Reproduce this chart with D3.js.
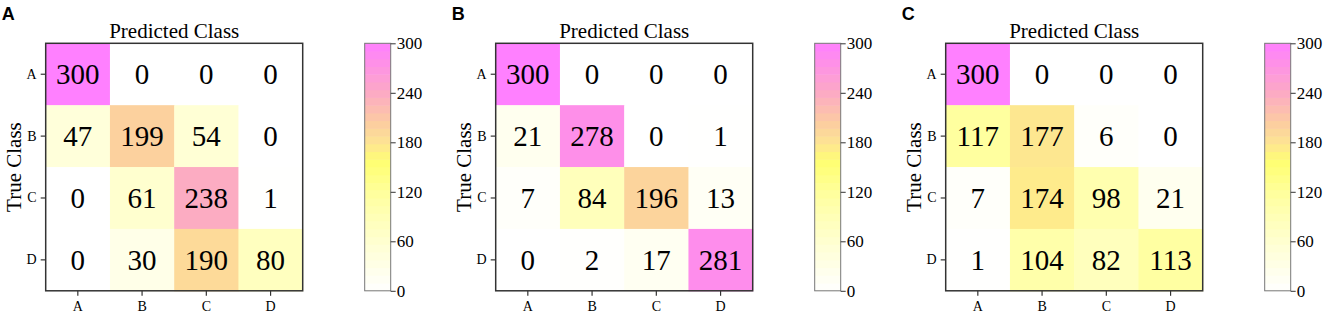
<!DOCTYPE html>
<html>
<head>
<meta charset="utf-8">
<script src="https://cdn.jsdelivr.net/npm/d3@7"></script>
<style>
  body { margin: 0; background: #fff; }
  svg { display: block; }
  .serif { font-family: "Liberation Serif", "Times New Roman", serif; }
</style>
</head>
<body>
<div id="container"></div>
<script>
/** DATA */
const classes = ["A", "B", "C", "D"];
const panelLabels = ["A", "B", "C"];
const matrixA = [[300, 0, 0, 0], [47, 199, 54, 0], [0, 61, 238, 1], [0, 30, 190, 80]];
const matrixB = [[300, 0, 0, 0], [21, 278, 0, 1], [7, 84, 196, 13], [0, 2, 17, 281]];
const matrixC = [[300, 0, 0, 0], [117, 177, 6, 0], [7, 174, 98, 21], [1, 104, 82, 113]];
const colorTicks = [0, 60, 120, 180, 240, 300];

/** LAYOUT */
const width = 1325, height = 316;
const panelStep = 450, plotLeft = 45.7, plotTop = 43.3;
const plotW = 257, plotH = 247.5;
const barOffset = 319, barW = 26;

// custom white -> yellow -> peach -> magenta map
const color = d3.scaleLinear()
  .domain([0, 60, 120, 156, 180, 200, 240, 300])
  .range(["#ffffff", "#ffffd0", "#ffff9c", "#ffff72", "#fde494", "#fcd09e", "#fcaac4", "#ff80ff"])
  .clamp(true);

const svg = d3.select("#container").append("svg")
  .attr("width", width).attr("height", height);

[matrixA, matrixB, matrixC].forEach((m, i) => {
  const x0 = plotLeft + i * panelStep;
  const g = svg.append("g").attr("transform", `translate(${x0},${plotTop})`);

  const x = d3.scaleBand().domain(classes).range([0, plotW]);
  const y = d3.scaleBand().domain(classes).range([0, plotH]);

  const cells = m.flatMap((row, r) => row.map((v, c) => ({ r: classes[r], c: classes[c], v })));

  g.selectAll("rect.cell").data(cells).join("rect")
    .attr("class", "cell")
    .attr("x", d => x(d.c)).attr("y", d => y(d.r))
    .attr("width", x.bandwidth() + 0.5).attr("height", y.bandwidth() + 0.5)
    .attr("fill", d => color(d.v));

  g.selectAll("text.val").data(cells).join("text")
    .attr("class", "val serif")
    .attr("x", d => x(d.c) + x.bandwidth() / 2)
    .attr("y", d => y(d.r) + y.bandwidth() / 2)
    .attr("text-anchor", "middle").attr("dy", "0.35em")
    .attr("font-size", 29)
    .text(d => d.v);

  // axes
  const yAxis = g.append("g").call(d3.axisLeft(y).tickSize(5).tickPadding(4));
  const xAxis = g.append("g").attr("transform", `translate(0,${plotH})`)
    .call(d3.axisBottom(x).tickSize(5).tickPadding(5));
  [yAxis, xAxis].forEach(a => {
    a.select(".domain").remove();
    a.selectAll("line").attr("stroke", "#333").attr("stroke-width", 1.2);
    a.selectAll("text").attr("class", "serif").attr("font-size", 14).attr("fill", "#000");
  });

  g.append("rect")
    .attr("width", plotW).attr("height", plotH)
    .attr("fill", "none").attr("stroke", "#333").attr("stroke-width", 1.5);

  g.append("text").attr("class", "serif")
    .attr("x", plotW / 2).attr("y", -5)
    .attr("text-anchor", "middle").attr("font-size", 21)
    .text("Predicted Class");

  g.append("text").attr("class", "serif")
    .attr("transform", `translate(-25,${plotH / 2}) rotate(-90)`)
    .attr("text-anchor", "middle").attr("font-size", 21)
    .text("True Class");

  svg.append("text")
    .attr("x", x0 - 44).attr("y", 20)
    .attr("font-family", "Liberation Sans, Arial, sans-serif")
    .attr("font-weight", "bold").attr("font-size", 18)
    .text(panelLabels[i]);

  // colorbar
  const cb = svg.append("g").attr("transform", `translate(${x0 + barOffset},${plotTop})`);
  const cy = d3.scaleLinear().domain([0, 300]).range([plotH, 0]);
  const nBands = 32;
  const bands = d3.range(nBands).map(k => k * 300 / nBands);
  cb.selectAll("rect.band").data(bands).join("rect")
    .attr("class", "band")
    .attr("x", 0).attr("width", barW)
    .attr("y", d => cy(d + 300 / nBands))
    .attr("height", cy(0) - cy(300 / nBands) + 0.5)
    .attr("fill", d => color(d + 150 / nBands));
  cb.append("rect").attr("width", barW).attr("height", plotH)
    .attr("fill", "none").attr("stroke", "#777").attr("stroke-width", 1);
  const cAxis = cb.append("g").attr("transform", `translate(${barW},0)`)
    .call(d3.axisRight(cy).tickValues(colorTicks).tickSize(5).tickPadding(1));
  cAxis.select(".domain").remove();
  cAxis.selectAll("line").attr("stroke", "#333");
  cAxis.selectAll("text").attr("class", "serif").attr("font-size", 17).attr("fill", "#000");
});
</script>
</body>
</html>
